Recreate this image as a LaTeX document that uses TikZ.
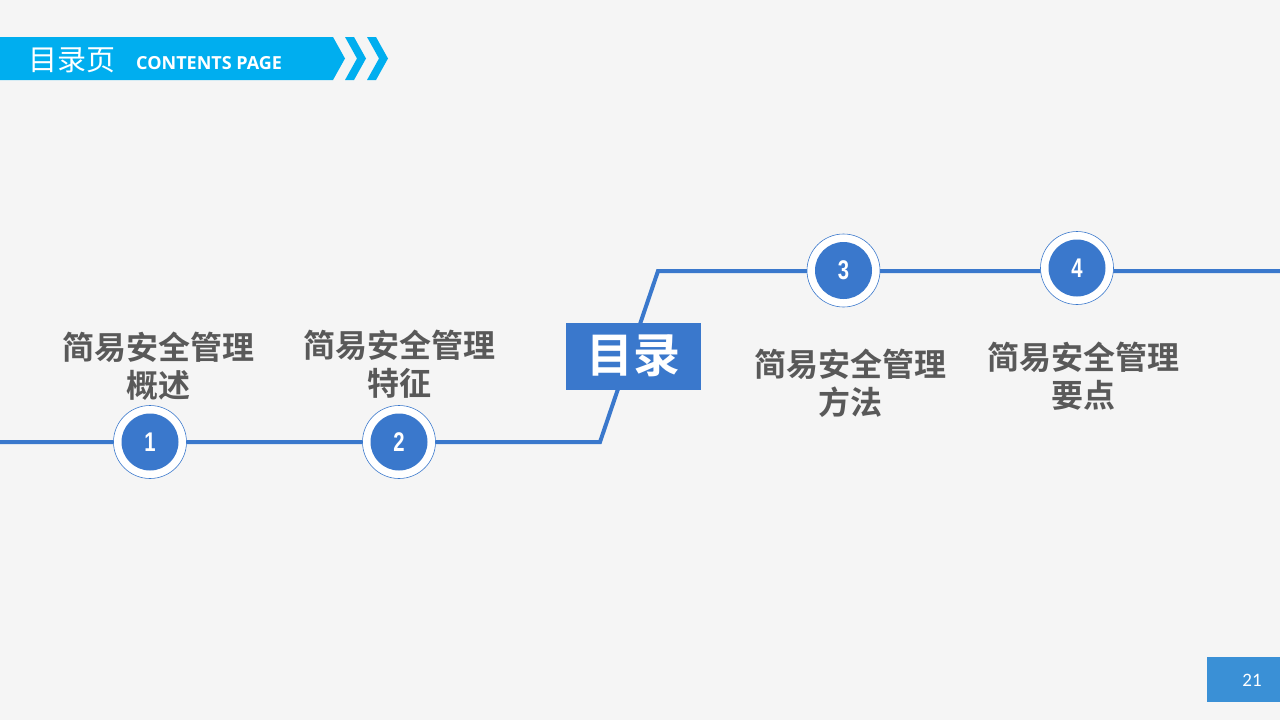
\documentclass[tikz,border=0pt]{standalone}
\usepackage{fontspec}
\setmainfont{Noto Sans CJK SC}[BoldFont={Noto Sans CJK SC Bold}]
\newfontfamily\latinb{Open Sans}[BoldFont={Open Sans Bold}]
\newfontfamily\numf{Liberation Sans}
\newfontfamily\pagef{Carlito}
\definecolor{bg}{HTML}{F5F5F5}
\definecolor{hdr}{HTML}{00AEEF}
\definecolor{mainblue}{HTML}{3A78CC}
\definecolor{txtgray}{HTML}{595959}
\definecolor{pgblue}{HTML}{3A90D6}
\newcommand{\numtxt}[1]{\scalebox{0.75}[1]{#1}}
\begin{document}
\begin{tikzpicture}[x=1pt,y=-1pt,
  route/.style={draw=mainblue,line width=4pt},
  outer/.style={circle,draw=mainblue,line width=0.6pt,fill=white,minimum size=73pt,inner sep=0pt},
  inner/.style={circle,fill=mainblue,minimum size=57pt,inner sep=0pt,text=white,font=\numf\bfseries\fontsize{27}{27}\selectfont},
  label/.style={align=center,text=txtgray,font=\bfseries\fontsize{32}{38}\selectfont}]
\useasboundingbox (0,0) rectangle (1280,720);
\fill[bg] (0,0) rectangle (1280,720);
% header
\fill[hdr] (0,37) -- (333,37) -- (345,58.5) -- (333,80) -- (0,80) -- cycle;
\fill[hdr] (345,37) -- (354,37) -- (366,58.5) -- (354,80) -- (345,80) -- (357,58.5) -- cycle;
\fill[hdr] (367,37) -- (376,37) -- (388,58.5) -- (376,80) -- (367,80) -- (379,58.5) -- cycle;
\node[anchor=west,text=white,font=\fontsize{29}{29}\selectfont,inner sep=0pt] (hzh) at (28,60) {目录页};
\node[anchor=west,text=white,font=\latinb\bfseries\fontsize{18}{18}\selectfont,inner sep=0pt] (hen) at (136,63) {CONTENTS PAGE};
% route
\coordinate (s) at (0,442);
\coordinate (k1) at (600,442);
\coordinate (k2) at (658,271);
\coordinate (e) at (1280,271);
\draw[route] (s) -- (k1) -- (k2) -- (e);
% title box
\node[fill=mainblue,minimum width=135pt,minimum height=67pt,inner sep=0pt,text=white,font=\bfseries\fontsize{47}{47}\selectfont] (title) at (633.5,356) {目录};
% circles
\node[outer] (o1) at (150,442) {};
\node[inner] (c1) at (150,442) {\numtxt{1}};
\node[outer] (o2) at (399,442) {};
\node[inner] (c2) at (399,442) {\numtxt{2}};
\node[outer] (o3) at (843.5,270.5) {};
\node[inner] (c3) at (843.5,270.5) {\numtxt{3}};
\node[outer] (o4) at (1077,268) {};
\node[inner] (c4) at (1077,268) {\numtxt{4}};
% labels
\node[label] (l1) at (158,366) {简易安全管理\\概述};
\node[label] (l2) at (399,364) {简易安全管理\\特征};
\node[label] (l3) at (850,383) {简易安全管理\\方法};
\node[label] (l4) at (1083,376) {简易安全管理\\要点};
% page number
\node[fill=pgblue,minimum width=73pt,minimum height=45pt,inner sep=0pt] (pg) at (1243.5,679.5) {};
\node[text=white,font=\pagef\fontsize{19}{19}\selectfont,inner sep=0pt] (pgn) at (1252,680) {21};
\end{tikzpicture}
\end{document}
